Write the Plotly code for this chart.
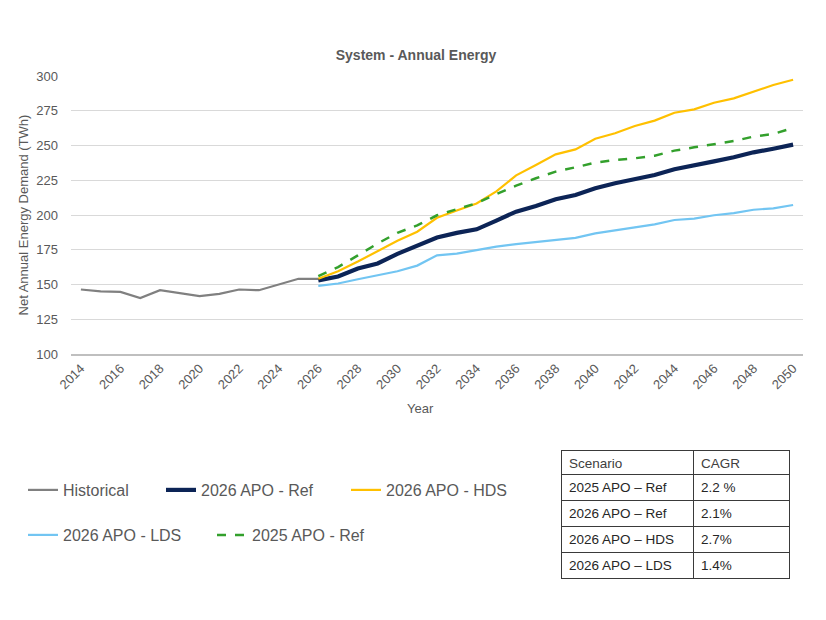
import plotly.graph_objects as go

W, H = 826, 620
PAGE_OFFSET = 8  # default body margin of the html page

# ---------------- data ----------------
hist_years = list(range(2014, 2027))
hist_vals = [146.4, 145.0, 144.7, 140.2, 145.9, 143.8, 141.6, 143.3, 146.4, 145.9, 150.2, 154.1, 154.1]

fc_years = list(range(2026, 2051))
ref_2026 = [153.0, 155.8, 161.5, 165.1, 172.0, 177.5, 183.8, 187.1, 189.7, 196.0,
            202.4, 206.5, 211.3, 214.4, 219.2, 222.8, 225.7, 228.8, 232.9, 235.5,
            238.6, 241.5, 245.1, 247.7, 250.6]
hds_2026 = [154.2, 159.5, 166.5, 173.8, 181.5, 188.0, 198.0, 203.3, 208.3, 217.0,
            228.5, 236.0, 243.6, 247.2, 254.9, 258.8, 264.0, 267.9, 273.6, 276.0,
            280.8, 283.9, 288.7, 293.5, 297.3]
lds_2026 = [149.0, 150.7, 153.8, 156.5, 159.5, 163.6, 171.0, 172.2, 174.7, 177.2,
            179.1, 180.6, 182.0, 183.5, 186.8, 189.2, 191.1, 193.3, 196.4, 197.4,
            199.8, 201.4, 203.8, 204.8, 207.2]
ref_2025 = [156.0, 162.5, 171.0, 179.5, 187.2, 192.5, 199.8, 204.0, 208.5, 215.0,
            221.1, 226.4, 231.2, 234.3, 237.7, 239.6, 240.8, 242.7, 246.3, 248.7,
            250.8, 253.2, 256.4, 258.3, 262.6]

table_scenarios = ["2025 APO – Ref", "2026 APO – Ref", "2026 APO – HDS", "2026 APO – LDS"]
table_cagr = ["2.2 %", "2.1%", "2.7%", "1.4%"]
table_header = ["Scenario", "CAGR"]

title_text = "System - Annual Energy"
y_title = "Net Annual Energy Demand (TWh)"
x_title = "Year"

# ---------------- styles ----------------
FONT = "Liberation Sans, Arial, sans-serif"
GREY_TXT = "#595959"

def px_x(v):
    return (v - PAGE_OFFSET) / W

def px_y(v):
    return 1 - (v - PAGE_OFFSET) / H

fig = go.Figure()

series = [
    ("Historical", hist_years, hist_vals, dict(color="#808080", width=2.2), "legend"),
    ("2026 APO - Ref", fc_years, ref_2026, dict(color="#0c2456", width=4.2), "legend2"),
    ("2026 APO - HDS", fc_years, hds_2026, dict(color="#ffc000", width=2.2), "legend3"),
    ("2026 APO - LDS", fc_years, lds_2026, dict(color="#72c5f2", width=2.2), "legend4"),
    ("2025 APO - Ref", fc_years, ref_2025, dict(color="#33a02c", width=2.5, dash="dash"), "legend5"),
]
for name, xs, ys, line, lg in series:
    fig.add_trace(go.Scatter(x=xs, y=ys, mode="lines", name=name, line=line, legend=lg,
                             showlegend=True, hoverinfo="skip"))

fig.add_trace(go.Table(
    domain=dict(x=[px_x(561), px_x(789)], y=[px_y(584), px_y(450)]),
    columnwidth=[132, 96],
    header=dict(values=table_header, align="left", height=24,
                line=dict(color="#3a3a3a", width=1), fill=dict(color="white"),
                font=dict(family=FONT, size=13.5, color="#404040")),
    cells=dict(values=[table_scenarios, table_cagr], align="left", height=26,
               line=dict(color="#3a3a3a", width=1), fill=dict(color="white"),
               font=dict(family=FONT, size=13.5, color="#262626")),
))

legend_common = dict(xanchor="left", yanchor="middle", bgcolor="rgba(0,0,0,0)",
                     borderwidth=0, font=dict(family=FONT, size=16, color=GREY_TXT),
                     itemwidth=30)

fig.update_layout(
    width=W, height=H,
    showlegend=True,
    margin=dict(l=0, r=0, t=0, b=0, autoexpand=False),
    paper_bgcolor="white", plot_bgcolor="white",
    font=dict(family=FONT, color=GREY_TXT, size=13),
    title=dict(text=title_text, x=px_x(416), y=px_y(55), xanchor="center", yanchor="middle",
               font=dict(family=FONT, size=14, color=GREY_TXT, weight="bold")),
    xaxis=dict(domain=[px_x(71), px_x(803)], range=[2013.5, 2050.5], automargin=False,
               tickmode="linear", tick0=2014, dtick=2, tickangle=-45,
               showgrid=False, zeroline=False, showline=True,
               linecolor="#bfbfbf", linewidth=1.5, ticks="",
               tickfont=dict(family=FONT, size=13, color=GREY_TXT)),
    yaxis=dict(domain=[px_y(354), px_y(76)], range=[100, 300], automargin=False,
               tickmode="linear", tick0=100, dtick=25,
               showgrid=True, gridcolor="#d9d9d9", gridwidth=1,
               zeroline=False, showline=False, ticks="", ticklabelstandoff=12,
               tickfont=dict(family=FONT, size=13, color=GREY_TXT),
               title=dict(text=y_title, standoff=4,
                          font=dict(family=FONT, size=13, color=GREY_TXT))),
    legend=dict(x=px_x(23), y=px_y(490), **legend_common),
    legend2=dict(x=px_x(161), y=px_y(490), **legend_common),
    legend3=dict(x=px_x(346), y=px_y(490), **legend_common),
    legend4=dict(x=px_x(23), y=px_y(535), **legend_common),
    legend5=dict(x=px_x(212), y=px_y(535), **legend_common),
    annotations=[dict(text=x_title, xref="paper", yref="paper", x=px_x(420), y=px_y(408),
                      xanchor="center", yanchor="middle", showarrow=False,
                      font=dict(family=FONT, size=13, color=GREY_TXT))],
)

fig.write_html("out.html")
